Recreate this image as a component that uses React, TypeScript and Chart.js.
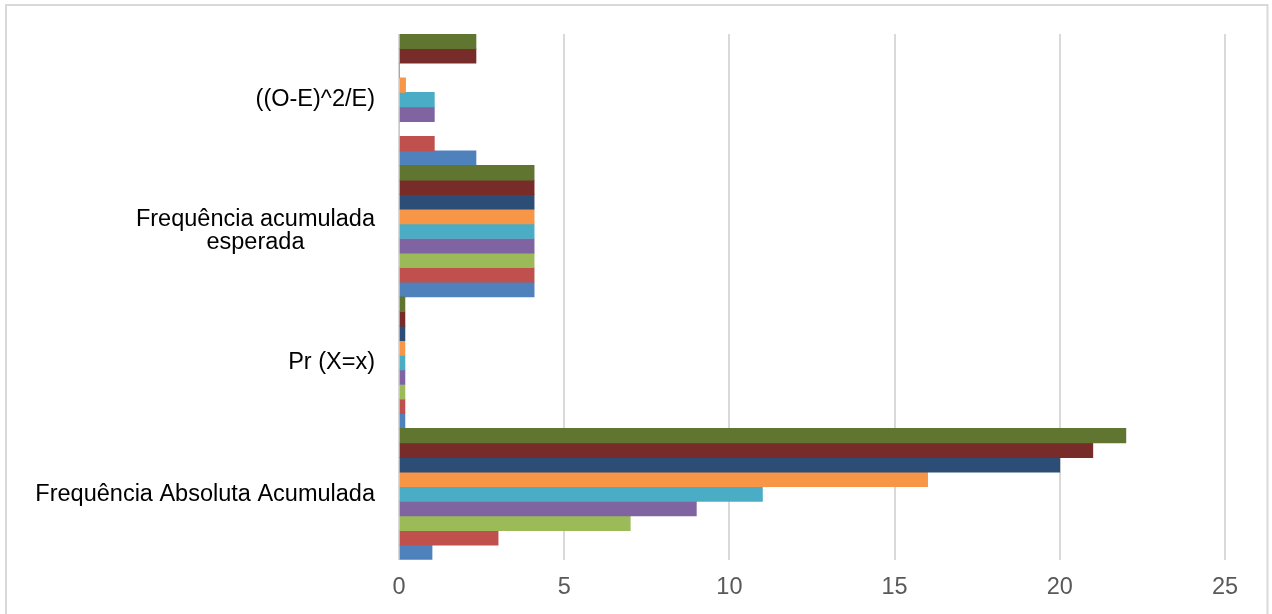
import React, { useEffect, useRef } from 'react';
import { Chart, registerables } from 'chart.js';

Chart.register(...registerables);

const FONT_FAMILY = '"Liberation Sans", Arial, sans-serif';
const FONT_SIZE = 23.5;

// Categories, listed from the bottom of the chart upwards
const categories: (string | string[])[] = [
  'Frequência Absoluta Acumulada',
  'Pr (X=x)',
  ['Frequência acumulada', 'esperada'],
  '((O-E)^2/E)',
];

// One series per class value x
const seriesNames = ['x = 0', 'x = 1', 'x = 2', 'x = 3', 'x = 4', 'x = 5', 'x = 6', 'x = 7', 'x = 8'];
const seriesColors = ['#4F81BD', '#C0504D', '#9BBB59', '#8064A2', '#4BACC6', '#F79646', '#2C4D75', '#772C2A', '#5F7530'];

const freqAbsolutaAcumulada = [1, 3, 7, 9, 11, 16, 20, 21, 22];
const probabilidade = [0.18, 0.18, 0.18, 0.18, 0.18, 0.18, 0.18, 0.18, 0.18];
const freqAcumuladaEsperada = [4.09, 4.09, 4.09, 4.09, 4.09, 4.09, 4.09, 4.09, 4.09];
const quiQuadrado = [2.33, 1.07, 0, 1.07, 1.07, 0.2, 0, 2.33, 2.33];

const xTicks = [0, 5, 10, 15, 20, 25];

// Category labels: right-aligned block, wrapped lines centred on each other
const categoryLabels = {
  id: 'categoryLabels',
  afterDraw(chart: any) {
    const { ctx, chartArea } = chart;
    const yScale = chart.scales.y;
    ctx.save();
    ctx.font = `${FONT_SIZE}px ${FONT_FAMILY}`;
    ctx.fillStyle = '#000000';
    ctx.textBaseline = 'middle';
    ctx.textAlign = 'center';
    const right = chartArea.left - 24;
    (chart.data.labels as (string | string[])[]).forEach((label, i) => {
      const lines = Array.isArray(label) ? label : [label];
      const widest = Math.max(...lines.map((l) => ctx.measureText(l).width));
      const cx = right - widest / 2;
      const yc = yScale.getPixelForValue(i);
      lines.forEach((line, j) => {
        ctx.fillText(line, cx, yc + (j - (lines.length - 1) / 2) * 23);
      });
    });
    ctx.restore();
  },
};

// White background and the light outer frame
const chartFrame = {
  id: 'chartFrame',
  beforeDraw(chart: any) {
    const { ctx, width, height } = chart;
    ctx.save();
    ctx.fillStyle = '#ffffff';
    ctx.fillRect(0, 0, width, height);
    ctx.strokeStyle = '#d9d9d9';
    ctx.lineWidth = 2;
    ctx.strokeRect(6, 5, width - 6 - 4.5, height + 20);
    ctx.restore();
  },
};

export default function App() {
  const canvasRef = useRef<HTMLCanvasElement | null>(null);

  useEffect(() => {
    if (!canvasRef.current) return;

    // Top-to-bottom order for the index axis; series drawn top-down in reverse
    const labels = [...categories].reverse();
    const datasets = seriesNames
      .map((name, s) => ({
        label: name,
        data: [quiQuadrado[s], freqAcumuladaEsperada[s], probabilidade[s], freqAbsolutaAcumulada[s]],
        backgroundColor: seriesColors[s],
        borderWidth: 0,
        categoryPercentage: 1,
        barPercentage: 1,
      }))
      .reverse();

    const chart = new Chart(canvasRef.current, {
      type: 'bar',
      data: { labels, datasets },
      plugins: [chartFrame, categoryLabels],
      options: {
        indexAxis: 'y',
        responsive: false,
        animation: false,
        devicePixelRatio: 1,
        layout: { padding: { left: 399, right: 47, top: 34, bottom: -2 } },
        plugins: {
          legend: { display: false },
          tooltip: { enabled: false },
        },
        scales: {
          y: {
            display: false,
          },
          x: {
            min: 0,
            max: 25,
            afterBuildTicks(scale: any) {
              scale.ticks = xTicks.map((v) => ({ value: v }));
            },
            border: { display: false },
            grid: {
              color: '#d9d9d9',
              lineWidth: 2,
              drawTicks: false,
            },
            ticks: {
              padding: 14,
              color: '#595959',
              font: { family: FONT_FAMILY, size: FONT_SIZE },
            },
          },
        },
      },
    });

    return () => chart.destroy();
  }, []);

  return (
    <div style={{ position: 'absolute', left: 0, top: 0, width: 1272, height: 614 }}>
      <canvas ref={canvasRef} width={1272} height={614} />
    </div>
  );
}
